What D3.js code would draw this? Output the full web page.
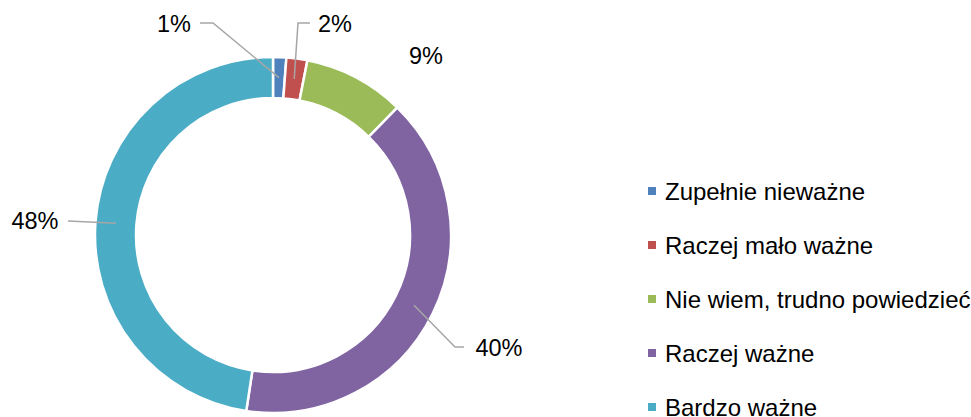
<!DOCTYPE html>
<html lang="pl">
<head>
<meta charset="utf-8">
<title>Donut</title>
<style>
  body { margin: 0; background: #fff; }
  text { font-family: "Liberation Sans", Arial, sans-serif; fill: #000; }
  .slice { stroke: #fff; stroke-width: 2.5px; }
  .leader { fill: none; stroke: #a6a6a6; stroke-width: 1.5px; }
</style>
</head>
<body>
<div id="chart"></div>
<script src="https://cdn.jsdelivr.net/npm/d3@7"></script>
<script>
// data
var categories = ["Zupełnie nieważne", "Raczej mało ważne", "Nie wiem, trudno powiedzieć", "Raczej ważne", "Bardzo ważne"];
var values = [1.2, 1.9, 9.2, 40.1, 47.6];
var colors = ["#4f81bd", "#c0504d", "#9bbb59", "#8064a2", "#4bacc6"];

// label placement (text centre, plus leader line start and elbow; null = no leader)
var labelPos = [
  { x: 174, y: 24, line: [[200, 23], [213, 23]] },
  { x: 335, y: 24, line: [[310, 23], [298, 23]] },
  { x: 426, y: 56, line: null },
  { x: 499, y: 348, line: [[464, 347], [455, 347]] },
  { x: 35, y: 221, line: [[68, 221]] }
];

var width = 971, height = 417;
var cx = 273, cy = 235, outerR = 178, innerR = 137;

var svg = d3.select("#chart").append("svg")
    .attr("width", width)
    .attr("height", height);

var pie = d3.pie().sort(null).value(function(d) { return d; });
var arc = d3.arc().innerRadius(innerR).outerRadius(outerR);
var arcs = pie(values);

var g = svg.append("g").attr("transform", "translate(" + cx + "," + cy + ")");

g.selectAll(".slice")
    .data(arcs)
  .enter().append("path")
    .attr("class", "slice")
    .attr("d", arc)
    .attr("fill", function(d, i) { return colors[i]; });

// leader lines
var line = d3.line();
arcs.forEach(function(d, i) {
  var p = labelPos[i];
  if (!p.line) return;
  var c = arc.centroid(d);
  var pts = p.line.concat([[c[0] + cx, c[1] + cy]]);
  svg.append("path")
      .attr("class", "leader")
      .attr("d", line(pts));
});

svg.selectAll(".pct")
    .data(arcs)
  .enter().append("text")
    .attr("class", "pct")
    .attr("x", function(d, i) { return labelPos[i].x; })
    .attr("y", function(d, i) { return labelPos[i].y; })
    .attr("text-anchor", "middle")
    .attr("dominant-baseline", "central")
    .style("font-size", "23.5px")
    .text(function(d) { return Math.round(d.data) + "%"; });

// legend
var legend = svg.selectAll(".legend")
    .data(categories)
  .enter().append("g")
    .attr("class", "legend")
    .attr("transform", function(d, i) { return "translate(648," + (191 + i * 54) + ")"; });

legend.append("rect")
    .attr("x", 0)
    .attr("y", -4)
    .attr("width", 8)
    .attr("height", 8)
    .attr("fill", function(d, i) { return colors[i]; });

legend.append("text")
    .attr("x", 17)
    .attr("y", 0)
    .attr("dominant-baseline", "central")
    .style("font-size", "24px")
    .text(function(d) { return d; });
</script>
</body>
</html>
